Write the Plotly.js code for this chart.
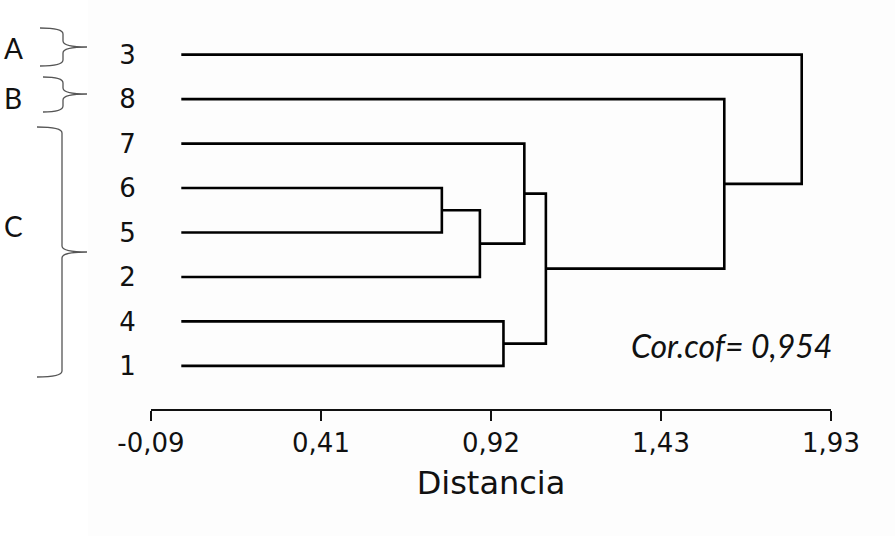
<!DOCTYPE html>
<html>
<head>
<meta charset="utf-8">
<script src="https://cdn.plot.ly/plotly-3.0.1.min.js"></script>
<style>html,body{margin:0;padding:0;background:#fff;}#chart{width:895px;height:536px;}</style>
</head>
<body>
<div id="chart"></div>
<script>
// ---- data ----
const leafOrder = ['3', '8', '7', '6', '5', '2', '4', '1'];   // top to bottom
const mergeA = ['6', 'n1', '7', '4', 'n3', '8', '3'];
const mergeB = ['5', '2', 'n2', '1', 'n4', 'n5', 'n6'];
const mergeHeight = [0.774, 0.887, 1.019, 0.957, 1.083, 1.613, 1.843];
const xTickVals = [-0.09, 0.415, 0.92, 1.425, 1.93];
const xTickText = ['-0,09', '0,41', '0,92', '1,43', '1,93'];
const groupLabels = ['A', 'B', 'C'];
const corText = 'Cor.cof= 0,954';

// ---- build dendrogram segments ----
const nodes = {};
leafOrder.forEach((lab, i) => { nodes[lab] = {y: leafOrder.length - i, h: 0}; });
const xs = [], ys = [];
mergeA.forEach((a, k) => {
  const A = nodes[a], B = nodes[mergeB[k]], h = mergeHeight[k];
  xs.push(A.h, h, h, B.h, null);
  ys.push(A.y, A.y, B.y, B.y, null);
  nodes['n' + (k + 1)] = {y: (A.y + B.y) / 2, h: h};
});

// ---- pixel helpers for decorations ----
const L = 151, T = 28, W = 680, H = 381;
const pxX = X => (X - L) / W;
const pxY = Y => (T + H - Y) / H;

function brace(x0, xs_, xp, yt, ym, yb) {
  const r = 6;
  const P = (X, Y) => pxX(X) + ',' + pxY(Y);
  return 'M' + P(x0, yt) + ' Q' + P(xs_, yt) + ' ' + P(xs_, yt + r) +
    ' L' + P(xs_, ym - r) + ' Q' + P(xs_, ym) + ' ' + P(xp, ym) +
    ' Q' + P(xs_, ym) + ' ' + P(xs_, ym + r) +
    ' L' + P(xs_, yb - r) + ' Q' + P(xs_, yb) + ' ' + P(x0, yb);
}

const braceStyle = {color: '#555', width: 1.3};
const shapes = [
  {type: 'rect', xref: 'paper', yref: 'paper', x0: pxX(88), x1: pxX(895), y0: pxY(536), y1: pxY(0),
   fillcolor: '#fdfdfd', line: {width: 0}, layer: 'below'},
  {type: 'path', xref: 'paper', yref: 'paper', path: brace(40, 63, 87, 28, 47, 66), line: braceStyle},
  {type: 'path', xref: 'paper', yref: 'paper', path: brace(43, 63, 87, 77, 94, 112), line: braceStyle},
  {type: 'path', xref: 'paper', yref: 'paper', path: brace(37, 62, 87, 127, 252, 377), line: braceStyle}
];

const groupY = [48, 97.5, 226];
const annotations = groupLabels.map((g, i) => ({
  text: g, xref: 'paper', yref: 'paper', x: pxX(13), y: pxY(groupY[i]),
  showarrow: false, xanchor: 'center', yanchor: 'middle',
  font: {family: 'Lato, "Open Sans", sans-serif', size: 28, color: '#111'}
}));
annotations.push({
  text: '<i>' + corText + '</i>', xref: 'x', yref: 'y', x: 1.633, y: 1.45,
  showarrow: false, xanchor: 'center', yanchor: 'middle',
  font: {family: 'Lato, "Open Sans", sans-serif', size: 32, color: '#111'}
});

const trace = {
  x: xs, y: ys, type: 'scatter', mode: 'lines',
  line: {color: '#000', width: 2.6}, hoverinfo: 'skip', showlegend: false, connectgaps: false
};

const layout = {
  width: 895, height: 536,
  margin: {l: L, r: 895 - L - W, t: T, b: 536 - T - H},
  paper_bgcolor: '#ffffff', plot_bgcolor: 'rgba(0,0,0,0)',
  xaxis: {
    range: [-0.09, 1.93], tickvals: xTickVals, ticktext: xTickText,
    ticks: 'outside', ticklen: 10, tickwidth: 2, tickcolor: '#111',
    showline: true, linewidth: 2, linecolor: '#111',
    showgrid: false, zeroline: false, automargin: false,
    tickfont: {family: '"DejaVu Sans", sans-serif', size: 26, color: '#111'},
    title: {text: 'Distancia', font: {family: '"DejaVu Sans", sans-serif', size: 32, color: '#111'}, standoff: 14}
  },
  yaxis: {
    range: [0.03, 8.6], tickvals: leafOrder.map((_, i) => leafOrder.length - i), ticktext: leafOrder,
    ticks: 'outside', ticklen: 9, tickcolor: 'rgba(0,0,0,0)',
    showline: false, showgrid: false, zeroline: false, automargin: false,
    tickfont: {family: '"DejaVu Sans", sans-serif', size: 26, color: '#111'}
  },
  shapes: shapes,
  annotations: annotations
};

Plotly.newPlot('chart', [trace], layout, {displayModeBar: false, staticPlot: true});
</script>
</body>
</html>
